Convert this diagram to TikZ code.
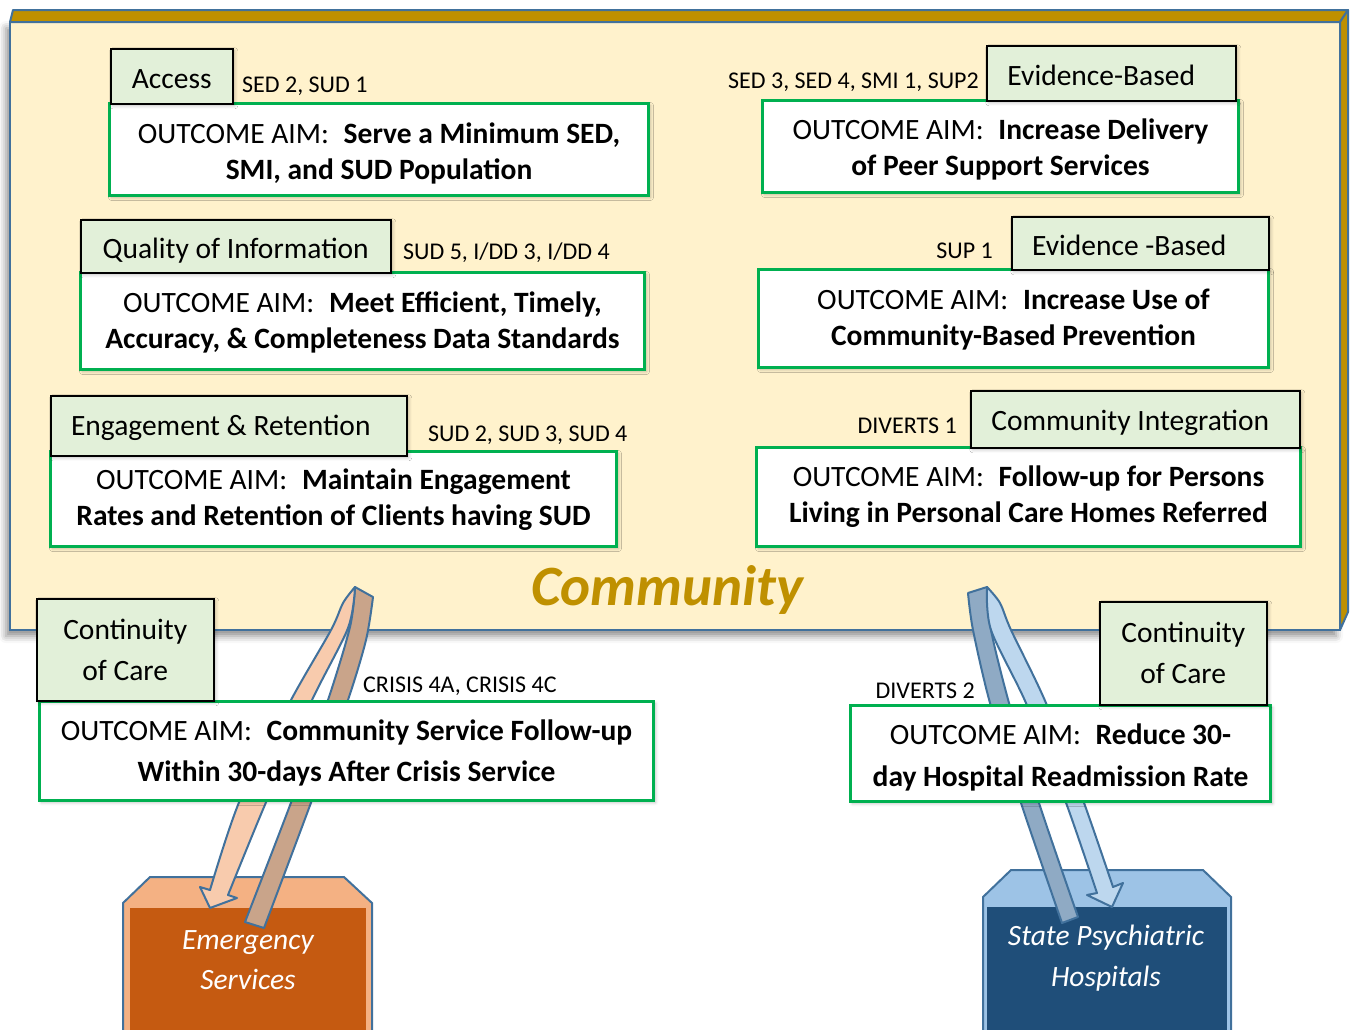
\documentclass[tikz,border=0pt]{standalone}
\usepackage{fontspec}
\setmainfont{Carlito}
\usetikzlibrary{shadows.blur}
\definecolor{cream}{HTML}{FFF2CC}
\definecolor{gold}{HTML}{BF9000}
\definecolor{edgeblue}{HTML}{41719C}
\definecolor{tabgreen}{HTML}{E2F0D9}
\definecolor{aimgreen}{HTML}{00B050}
\definecolor{peach}{HTML}{F8CBAD}
\definecolor{tanband}{HTML}{C9A48A}
\definecolor{orangelt}{HTML}{F4B183}
\definecolor{orangedk}{HTML}{C55A11}
\definecolor{bluelt}{HTML}{9DC3E6}
\definecolor{bluedk}{HTML}{1F4E79}
\definecolor{bandlt}{HTML}{BDD7EE}
\definecolor{banddk}{HTML}{8FAAC4}
\begin{document}
\begin{tikzpicture}[x=1pt,y=-1pt,
 softshadow/.style={blur shadow={shadow xshift=2pt, shadow yshift=-2pt, shadow blur radius=3pt, shadow opacity=25}},
 tabbox/.style={draw=black, line width=1.5pt, fill=tabgreen, inner sep=0pt, anchor=north west, align=center, font=\fontsize{29.5}{41}\selectfont, softshadow},
 tabone/.style={tabbox, text height=26pt, text depth=2pt},
 aimbox/.style={draw=aimgreen, line width=3pt, fill=white, inner sep=0pt, anchor=north west, softshadow},
 aimtext/.style={inner sep=0pt, align=center, font=\fontsize{29.5}{36}\selectfont},
 codelbl/.style={inner sep=0pt, font=\fontsize{24}{28}\selectfont},
 band/.style={draw=edgeblue, line width=2pt, line join=round},
 ]
\useasboundingbox (0,0) rectangle (1354,1029);

% main 3D box
\path[fill=cream, draw=edgeblue, line width=2pt,
  blur shadow={shadow xshift=-4pt, shadow yshift=-6pt, shadow blur radius=7pt, shadow opacity=45}]
  (10,22) rectangle (1340,630);
\draw[fill=gold, draw=edgeblue, line width=2pt, line join=round] (10,22) -- (13,10) -- (1348,10) -- (1340,22) -- cycle;
\draw[fill=gold, draw=edgeblue, line width=2pt, line join=round] (1340,22) -- (1348,10) -- (1348,612) -- (1340,630) -- cycle;
\node[text=gold, font=\bfseries\itshape\fontsize{57}{64}\selectfont] (comm) at (667,590) {Community};

% bottom boxes
\draw[fill=orangelt, draw=edgeblue, line width=2pt] (123,1040) -- (123,903) -- (150,877) -- (344,877) -- (372,903) -- (372,1040);
\fill[orangedk] (130,908) rectangle (366,1040);
\node[text=white, font=\itshape\fontsize{29.5}{40}\selectfont, align=center] (ems) at (248,960) {Emergency\\Services};
\draw[fill=bluelt, draw=edgeblue, line width=2pt] (983,1040) -- (983,897) -- (1011,870) -- (1203,870) -- (1231,897) -- (1231,1040);
\fill[bluedk] (987,907) rectangle (1227,1040);
\node[text=white, font=\itshape\fontsize{29.5}{41}\selectfont, align=center] (sph) at (1106,958) {State Psychiatric\\Hospitals};

% left U-turn arrow
\draw[band, fill=tanband] (245,922) -- (264,928) -- plot[smooth, tension=0.5] coordinates {(264,928) (312,800) (348,700) (366,640) (373,597)} -- (355,587) -- plot[smooth, tension=0.5] coordinates {(355,587) (350,627) (328,700) (292,800) (245,922)} -- cycle;
\draw[band, fill=peach] plot[smooth, tension=0.5] coordinates {(355,587) (343,603) (331,630) (291,700) (240,800) (210,890)} -- (200,887) -- (210,908) -- (237,898) -- (228,895) -- plot[smooth, tension=0.5] coordinates {(228,895) (267,800) (312,700) (348,628) (355,587)} -- cycle;

% right U-turn arrow
\draw[band, fill=banddk] (968,593) -- (987,587) -- plot[smooth, tension=0.5] coordinates {(987,587) (991,630) (1009,703) (1038,800) (1078,917)} -- (1062,923) -- plot[smooth, tension=0.5] coordinates {(1062,923) (1020,800) (990,703) (973,630) (968,593)} -- cycle;
\draw[band, fill=bandlt] plot[smooth, tension=0.5] coordinates {(987,587) (1000,603) (1011,630) (1046,703) (1083,800) (1113,887)} -- (1123,883) -- (1112,907) -- (1087,895) -- (1097,893) -- plot[smooth, tension=0.5] coordinates {(1097,893) (1065,800) (1026,703) (991,630) (987,587)} -- cycle;

% outcome boxes
\node[aimbox, minimum width=539pt, minimum height=92pt] (a1) at (108,102) {};
\node[aimtext] (a1t) at ([yshift=-4pt]a1.center) {OUTCOME AIM:\hspace{0.5em}\textbf{Serve a Minimum SED,}\\\textbf{SMI, and SUD Population}};
\node[aimbox, minimum width=564pt, minimum height=97pt] (a2) at (79,271) {};
\node[aimtext] (a2t) at ([yshift=-1pt]a2.center) {OUTCOME AIM:\hspace{0.5em}\textbf{Meet Efficient, Timely,}\\\textbf{Accuracy, \& Completeness Data Standards}};
\node[aimbox, minimum width=566pt, minimum height=95pt] (a3) at (49,450) {};
\node[aimtext] (a3t) at ([yshift=-1pt]a3.center) {OUTCOME AIM:\hspace{0.5em}\textbf{Maintain Engagement}\\\textbf{Rates and Retention of Clients having SUD}};
\node[aimbox, minimum width=476pt, minimum height=92pt] (a4) at (761,99) {};
\node[aimtext] (a4t) at ([yshift=-3pt]a4.center) {OUTCOME AIM:\hspace{0.5em}\textbf{Increase Delivery}\\\textbf{of Peer Support Services}};
\node[aimbox, minimum width=510pt, minimum height=98pt] (a5) at (757,268) {};
\node[aimtext] (a5t) at ([yshift=-1pt]a5.center) {OUTCOME AIM:\hspace{0.5em}\textbf{Increase Use of}\\\textbf{Community-Based Prevention}};
\node[aimbox, minimum width=544pt, minimum height=99pt] (a6) at (755,446) {};
\node[aimtext] (a6t) at (a6.center) {OUTCOME AIM:\hspace{0.5em}\textbf{Follow-up for Persons}\\\textbf{Living in Personal Care Homes Referred}};
\node[aimbox, minimum width=614pt, minimum height=99pt] (a7) at (38,700) {};
\node[aimtext, font=\fontsize{29.5}{41}\selectfont] (a7t) at ([yshift=-2pt]a7.center) {OUTCOME AIM:\hspace{0.5em}\textbf{Community Service Follow-up}\\\textbf{Within 30-days After Crisis Service}};
\node[aimbox, minimum width=420pt, minimum height=96pt] (a8) at (849,704) {};
\node[aimtext, font=\fontsize{29.5}{42}\selectfont] (a8t) at ([yshift=-4pt]a8.center) {OUTCOME AIM:\hspace{0.5em}\textbf{Reduce 30-}\\\textbf{day Hospital Readmission Rate}};

% tabs
\node[tabone, minimum width=122pt, minimum height=55pt] (t1) at (110,48) {Access};
\node[tabone, minimum width=310pt, minimum height=53pt] (t2) at (80,219) {Quality of Information};
\node[tabone, minimum width=356pt, minimum height=60pt, text height=22pt, text depth=3pt] (t3) at (50,395) {\kern-16pt Engagement \& Retention};
\node[tabone, minimum width=249pt, minimum height=55pt] (t4) at (986,45) {\kern-20pt Evidence-Based};
\node[tabone, minimum width=257pt, minimum height=53pt] (t5) at (1011,216) {\kern-22pt Evidence -Based};
\node[tabone, minimum width=329pt, minimum height=57pt, text height=24pt, text depth=2pt] (t6) at (970,390) {\kern-10pt Community Integration};
\node[tabbox, minimum width=177pt, minimum height=102pt] (t7) at (36,598) {Continuity\\of Care};
\node[tabbox, minimum width=167pt, minimum height=103pt] (t8) at (1099,601) {Continuity\\of Care};

% code labels
\node[codelbl, anchor=base west] (c1) at (242,92) {SED 2, SUD 1};
\node[codelbl, anchor=base west] (c2) at (403,259) {SUD 5, I/DD 3, I/DD 4};
\node[codelbl, anchor=base west] (c3) at (428,441) {SUD 2, SUD 3, SUD 4};
\node[codelbl, anchor=base east] (c4) at (979,88) {SED 3, SED 4, SMI 1, SUP2};
\node[codelbl, anchor=base east] (c5) at (993,258) {SUP 1};
\node[codelbl, anchor=base east] (c6) at (957,433) {DIVERTS 1};
\node[codelbl, anchor=base west] (c7) at (363,692) {CRISIS 4A, CRISIS 4C};
\node[codelbl, anchor=base east] (c8) at (975,698) {DIVERTS 2};
\end{tikzpicture}
\end{document}
